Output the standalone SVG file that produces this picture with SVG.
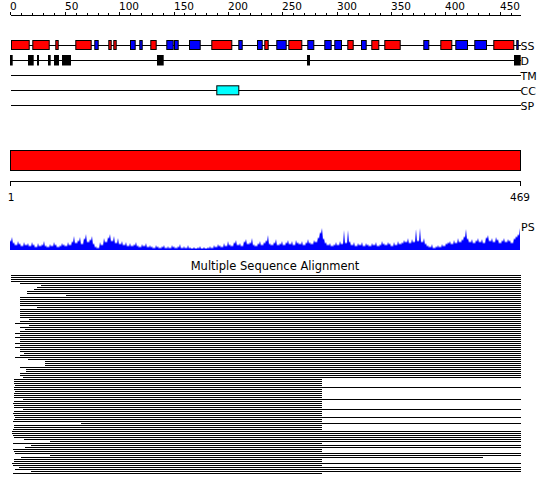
<svg xmlns="http://www.w3.org/2000/svg" width="550" height="495" viewBox="0 0 550 495">
<style>
text{font-family:"DejaVu Sans","Liberation Sans",sans-serif;fill:#000}
.lab{font-size:10.5px}
.trk{font-size:11px}
.ln{stroke:#000;stroke-width:1;fill:none;shape-rendering:crispEdges}
.r{fill:#f00;stroke:#000;stroke-width:1}
.b{fill:#00f;stroke:#000;stroke-width:1}
.d{fill:#000}
</style>
<rect width="550" height="495" fill="#fff"/>
<g id="ruler-top">
<path class="ln" d="M10.5 15.5H521M10.5 12V15M21.5 13V15M32.5 13V15M43.5 13V15M54.5 13V15M65.5 12V15M76.5 13V15M87.5 13V15M98.5 13V15M108.5 13V15M119.5 12V15M130.5 13V15M141.5 13V15M152.5 13V15M163.5 13V15M174.5 12V15M184.5 13V15M195.5 13V15M206.5 13V15M217.5 13V15M228.5 12V15M239.5 13V15M250.5 13V15M261.5 13V15M271.5 13V15M282.5 12V15M293.5 13V15M304.5 13V15M315.5 13V15M326.5 13V15M337.5 12V15M348.5 13V15M358.5 13V15M369.5 13V15M380.5 13V15M391.5 12V15M402.5 13V15M413.5 13V15M424.5 13V15M435.5 13V15M445.5 12V15M456.5 13V15M467.5 13V15M478.5 13V15M489.5 13V15M500.5 12V15M511.5 13V15"/>
<text class="lab" x="10" y="10">0</text>
<text class="lab" x="65" y="10">50</text>
<text class="lab" x="119" y="10">100</text>
<text class="lab" x="174" y="10">150</text>
<text class="lab" x="228" y="10">200</text>
<text class="lab" x="282" y="10">250</text>
<text class="lab" x="337" y="10">300</text>
<text class="lab" x="391" y="10">350</text>
<text class="lab" x="445" y="10">400</text>
<text class="lab" x="500" y="10">450</text>
</g>
<g id="tracks">
<path class="ln" d="M10.5 45.5H520.5M10.5 60.5H520.5M10.5 75.5H520.5M10.5 90.5H520.5M10.5 105.5H520.5"/>
<text class="trk" x="520.5" y="50">SS</text>
<text class="trk" x="520.5" y="65">D</text>
<text class="trk" x="520.5" y="80">TM</text>
<text class="trk" x="520.5" y="95">CC</text>
<text class="trk" x="520.5" y="110">SP</text>
</g>
<g id="track-ss">
<rect class="r" x="11.5" y="40.5" width="17.7" height="9"/>
<rect class="r" x="32.8" y="40.5" width="16.4" height="9"/>
<rect class="r" x="55.8" y="40.5" width="2.4" height="9"/>
<rect class="r" x="75.8" y="40.5" width="15.4" height="9"/>
<rect class="b" x="94.8" y="40.5" width="3.4" height="9"/>
<rect class="r" x="108.8" y="40.5" width="2.4" height="9"/>
<rect class="r" x="113.8" y="40.5" width="2.4" height="9"/>
<rect class="b" x="130.5" y="40.5" width="4.7" height="9"/>
<rect class="b" x="139.8" y="40.5" width="2.4" height="9"/>
<rect class="r" x="150.8" y="40.5" width="5.4" height="9"/>
<rect class="b" x="166.8" y="40.5" width="6.4" height="9"/>
<rect class="b" x="174.5" y="40.5" width="3.7" height="9"/>
<rect class="b" x="189.5" y="40.5" width="10.7" height="9"/>
<rect class="r" x="211.8" y="40.5" width="20" height="9"/>
<rect class="b" x="238.8" y="40.5" width="3.4" height="9"/>
<rect class="b" x="257.5" y="40.5" width="4.7" height="9"/>
<rect class="r" x="264.8" y="40.5" width="3.4" height="9"/>
<rect class="b" x="276.8" y="40.5" width="9.4" height="9"/>
<rect class="r" x="288.8" y="40.5" width="13" height="9"/>
<rect class="b" x="307.8" y="40.5" width="6" height="9"/>
<rect class="b" x="324.8" y="40.5" width="6.4" height="9"/>
<rect class="b" x="334.8" y="40.5" width="6.7" height="9"/>
<rect class="r" x="347.8" y="40.5" width="5.4" height="9"/>
<rect class="b" x="361.5" y="40.5" width="4.7" height="9"/>
<rect class="r" x="371.8" y="40.5" width="7" height="9"/>
<rect class="r" x="384.8" y="40.5" width="15.4" height="9"/>
<rect class="b" x="423.8" y="40.5" width="5" height="9"/>
<rect class="r" x="440.8" y="40.5" width="11" height="9"/>
<rect class="b" x="455.8" y="40.5" width="11.7" height="9"/>
<rect class="b" x="474.8" y="40.5" width="11.7" height="9"/>
<rect class="r" x="493.8" y="40.5" width="20" height="9"/>
<rect class="b" x="516.8" y="40.5" width="1.4" height="9"/>
</g>
<g id="track-d">
<rect class="d" x="10" y="55" width="2.7" height="10.5"/>
<rect class="d" x="28" y="55" width="5.7" height="10.5"/>
<rect class="d" x="37" y="55" width="2" height="10.5"/>
<rect class="d" x="48" y="55" width="2.7" height="10.5"/>
<rect class="d" x="54" y="55" width="5" height="10.5"/>
<rect class="d" x="62" y="55" width="9" height="10.5"/>
<rect class="d" x="157" y="55" width="6.7" height="10.5"/>
<rect class="d" x="307" y="55" width="3" height="10.5"/>
<rect class="d" x="514" y="55" width="6.7" height="10.5"/>
</g>
<g id="track-cc">
<rect x="216.8" y="85.8" width="22" height="9" fill="#0ff" stroke="#000" stroke-width="1"/>
</g>
<g id="domain-bar">
<rect x="10.5" y="150.5" width="510" height="20" class="r"/>
</g>
<g id="ruler-bottom">
<path class="ln" d="M10.5 181.5H520.5M10.5 181V186M520.5 181V186"/>
<text class="lab" x="11" y="201" text-anchor="middle">1</text>
<text class="lab" x="520" y="201" text-anchor="middle">469</text>
</g>
<g id="ps-profile">
<path fill="#00f" d="M10 250L10 240 11 242 12 237 13 244 14 242 15 246 16 244 17 246 18 241 19 245 20 243 21 247 22 245 23 247 24 242 25 246 26 244 27 246 28 243 29 247 30 245 31 247 32 242 33 246 34 244 35 248 36 246 37 248 38 243 39 247 40 245 41 247 42 244 43 246 44 241 45 247 46 245 47 248 48 246 49 248 50 244 51 247 52 245 53 247 54 242 55 246 56 244 57 248 58 246 59 248 60 245 61 247 62 243 63 246 64 244 65 247 66 245 67 247 68 242 69 246 70 244 71 246 72 241 73 243 74 236 75 244 76 242 77 244 78 240 79 242 80 237 81 245 82 243 83 245 84 238 85 240 86 234 87 243 88 241 89 243 90 239 91 241 92 236 93 245 94 243 95 248 96 246 97 249 98 247 99 249 100 242 101 246 102 244 103 246 104 238 105 243 106 241 107 243 108 237 109 239 110 234 111 242 112 240 113 242 114 236 115 244 116 242 117 244 118 238 119 245 120 243 121 245 122 241 123 246 124 244 125 246 126 242 127 247 128 245 129 247 130 243 131 247 132 245 133 247 134 244 135 246 136 242 137 247 138 245 139 248 140 246 141 248 142 244 143 247 144 245 145 247 146 243 147 248 148 246 149 248 150 245 151 248 152 246 153 249 154 247 155 249 156 245 157 248 158 246 159 249 160 247 161 249 162 246 163 248 164 245 165 249 166 247 167 249 168 246 169 249 170 247 171 249 172 245 173 248 174 246 175 249 176 247 177 249 178 246 179 248 180 244 181 249 182 247 183 249 184 246 185 249 186 247 187 249 188 245 189 249 190 247 191 249 192 248 193 249 194 247 195 249 196 248 197 249 198 247 199 249 200 246 201 249 202 248 203 249 204 247 205 249 206 248 207 249 208 247 209 249 210 246 211 249 212 247 213 249 214 245 215 248 216 246 217 248 218 244 219 247 220 245 221 248 222 246 223 248 224 243 225 247 226 245 227 247 228 241 229 246 230 244 231 247 232 245 233 247 234 242 235 244 236 240 237 246 238 244 239 246 240 243 241 247 242 245 243 247 244 241 245 243 246 239 247 245 248 243 249 245 250 242 251 244 252 238 253 246 254 244 255 247 256 245 257 247 258 243 259 245 260 241 261 246 262 244 263 246 264 242 265 244 266 240 267 242 268 235 269 245 270 243 271 246 272 244 273 246 274 242 275 244 276 239 277 246 278 244 279 246 280 243 281 245 282 241 283 246 284 244 285 246 286 242 287 244 288 240 289 245 290 243 291 245 292 241 293 246 294 244 295 246 296 240 297 244 298 242 299 245 300 243 301 245 302 241 303 246 304 244 305 246 306 242 307 244 308 239 309 244 310 242 311 245 312 243 313 245 314 240 315 243 316 241 317 243 318 237 319 239 320 232 321 234 322 228 323 240 324 238 325 244 326 242 327 246 328 244 329 246 330 243 331 247 332 245 333 247 334 244 335 246 336 242 337 246 338 244 339 246 340 241 341 245 342 243 343 245 344 230 345 244 346 242 347 244 348 230 349 243 350 241 351 246 352 244 353 246 354 242 355 247 356 245 357 247 358 243 359 246 360 244 361 246 362 242 363 247 364 245 365 247 366 243 367 246 368 244 369 247 370 245 371 247 372 243 373 246 374 244 375 246 376 242 377 247 378 245 379 247 380 244 381 246 382 241 383 245 384 243 385 246 386 244 387 246 388 242 389 245 390 243 391 247 392 245 393 247 394 242 395 246 396 244 397 246 398 241 399 245 400 243 401 245 402 242 403 244 404 240 405 243 406 241 407 243 408 238 409 244 410 242 411 244 412 239 413 243 414 241 415 243 416 229 417 242 418 240 419 242 420 228 421 243 422 241 423 243 424 238 425 245 426 243 427 247 428 245 429 248 430 246 431 248 432 244 433 249 434 247 435 249 436 246 437 248 438 245 439 248 440 246 441 248 442 244 443 247 444 245 445 247 446 243 447 245 448 242 449 244 450 241 451 245 452 243 453 245 454 240 455 244 456 242 457 244 458 238 459 243 460 241 461 243 462 239 463 241 464 236 465 238 466 229 467 240 468 238 469 243 470 241 471 243 472 239 473 244 474 242 475 244 476 240 477 242 478 238 479 243 480 241 481 243 482 239 483 244 484 242 485 244 486 237 487 239 488 235 489 242 490 240 491 242 492 238 493 243 494 241 495 243 496 237 497 241 498 239 499 244 500 242 501 244 502 240 503 242 504 238 505 243 506 241 507 243 508 239 509 242 510 240 511 244 512 242 513 244 514 238 515 240 516 236 517 238 518 234 519 236 520 228 520 250Z"/>
<text class="trk" x="521" y="231">PS</text>
</g>
<g id="msa">
<text x="275" y="270" text-anchor="middle" style="font-size:11.5px">Multiple Sequence Alignment</text>
<path class="ln" d="M11 275.5H520.5M11 277.5H520.5M11 279.5H520.5M11 281.5H520.5M20 283.5H520.5M41 285.5H520.5M37 287.5H520.5M34 289.5H520.5M27 291.5H520.5M27 293.5H520.5M66 295.5H520.5M20 297.5H520.5M20 299.5H520.5M20 301.5H520.5M20 303.5H520.5M20 305.5H520.5M37 307.5H520.5M20 309.5H520.5M20 311.5H520.5M20 313.5H520.5M20 315.5H520.5M20 317.5H520.5M29 319.5H520.5M20 321.5H520.5M15 323.5H520.5M29 325.5H520.5M20 327.5H520.5M25 329.5H520.5M20 331.5H520.5M15 333.5H520.5M20 335.5H520.5M15 337.5H520.5M20 339.5H520.5M20 341.5H520.5M15 343.5H520.5M20 345.5H520.5M15 347.5H520.5M20 349.5H520.5M20 351.5H520.5M24 353.5H520.5M20 355.5H520.5M15 357.5H520.5M28 359.5H520.5M45 361.5H520.5M45 363.5H520.5M45 365.5H520.5M20 367.5H520.5M26 369.5H520.5M26 371.5H520.5M20 373.5H520.5M20 375.5H520.5M23 377.5H520.5M14 379.5H321.5M14 381.5H321.5M14 383.5H321.5M15 385.5H321.5M14 387.5H520.5M14 389.5H321.5M15 391.5H321.5M14 393.5H321.5M14 395.5H321.5M14 397.5H321.5M23 399.5H520.5M14 401.5H321.5M13 403.5H321.5M14 405.5H321.5M14 407.5H321.5M23 409.5H520.5M14 411.5H321.5M13 413.5H321.5M14 415.5H321.5M15 417.5H520.5M14 419.5H321.5M13 421.5H321.5M81 423.5H520.5M14 425.5H321.5M14 427.5H321.5M13 429.5H321.5M12 431.5H520.5M12 433.5H520.5M13 435.5H520.5M14 437.5H520.5M24 439.5H520.5M50 441.5H520.5M13 443.5H321.5M31 445.5H520.5M25 447.5H520.5M13 449.5H321.5M14 451.5H321.5M15 453.5H520.5M50 455.5H520.5M21 457.5H483M14 459.5H321.5M14 461.5H321.5M12 463.5H520.5M13 465.5H321.5M19 467.5H520.5M15 469.5H520.5M31 471.5H520.5M13 473.5H321.5"/>
</g>
</svg>
